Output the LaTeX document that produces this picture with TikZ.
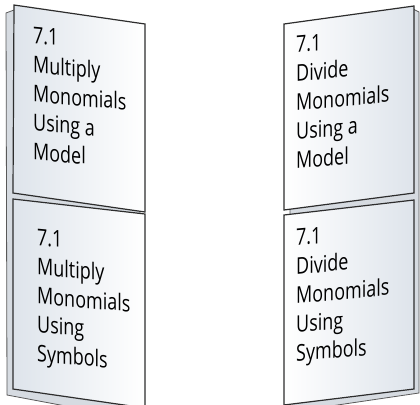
\documentclass[tikz,border=0pt]{standalone}
\usepackage{fontspec}
\setmainfont{Open Sans}[FakeStretch=0.78]
\usetikzlibrary{positioning}
\definecolor{sheetgray}{RGB}{222,228,235}
\definecolor{backgray}{RGB}{214,219,225}
\definecolor{edgegray}{RGB}{45,45,45}

\begin{document}
\begin{tikzpicture}[x=1pt, y=-1pt,
    sheet/.style={draw=edgegray, line width=1.2pt, line join=miter},
    left_sheet/.style={sheet, left color=sheetgray, right color=white},
    right_sheet/.style={sheet, left color=white, right color=sheetgray},
    back_sheet/.style={draw=black!65, line width=0.8pt, fill=backgray},
    tab_text/.style={inner sep=0pt, align=left, anchor=north west,
          font=\fontsize{23}{29}\selectfont, text=black}
]

    % Page size of the reference, lower edges run off the page
    \useasboundingbox (0,0) rectangle (420,404);
    \clip (0,0) rectangle (420,404);

    % Left flap: back sheet behind the two tabs
    \draw[back_sheet] (6,13) -- (14,10) -- (140,30) -- (140,420) -- (7,395) -- cycle;

    % Left flap: upper and lower tabs
    \draw[left_sheet] (14,5) -- (145,24) -- (145,212) -- (13,193) -- cycle;
    \draw[left_sheet] (13,199) -- (145,214) -- (145,408) -- (13,389) -- cycle;

    % Right flap: back sheet behind the two tabs
    \draw[back_sheet] (290,30) -- (413,9) -- (419,12) -- (419,393) -- (290,412) -- cycle;

    % Right flap: upper and lower tabs
    \draw[right_sheet] (284,24) -- (414,6) -- (414,193) -- (284,210) -- cycle;
    \draw[right_sheet] (284,215) -- (414,200) -- (414,389) -- (284,405) -- cycle;

    % Tab labels
    \node[tab_text, yslant=-0.09] (mult_model) at (33,27) {7.1\\Multiply\\Monomials\\Using a\\Model};
    \node[tab_text, yslant=-0.09] (mult_symbols) at (37,229) {7.1\\Multiply\\Monomials\\Using\\Symbols};
    \node[tab_text, yslant=0.09] (div_model) at (296,36) {7.1\\Divide\\Monomials\\Using a\\Model};
    \node[tab_text, yslant=0.09] (div_symbols) at (296,229) {7.1\\Divide\\Monomials\\Using\\Symbols};

\end{tikzpicture}
\end{document}
